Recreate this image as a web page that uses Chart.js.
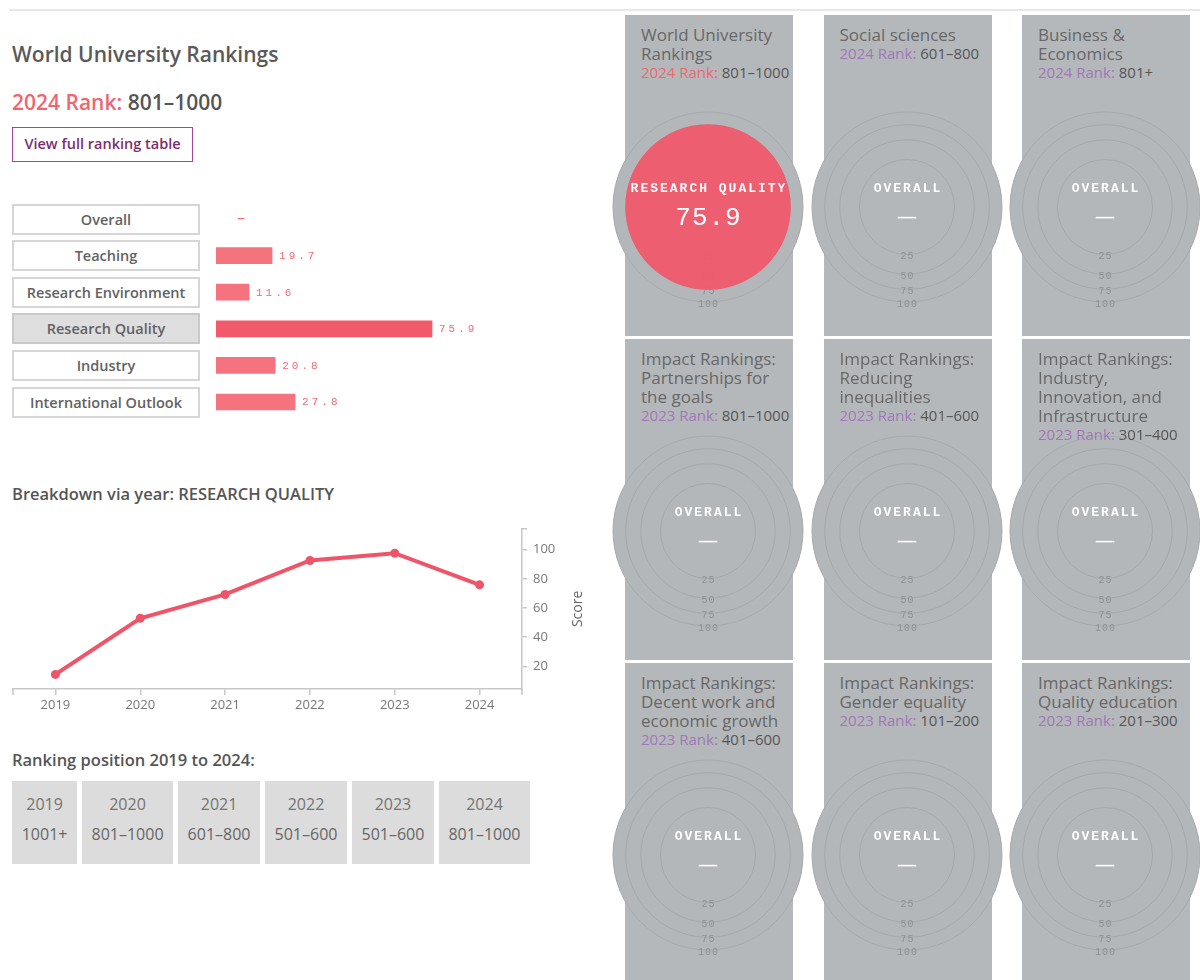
<!DOCTYPE html>
<html><head><meta charset="utf-8">
<script src="https://cdn.jsdelivr.net/npm/chart.js@4.4.1/dist/chart.umd.min.js"></script>
<style>
html,body{margin:0;padding:0;background:#fff;}
body{width:1200px;height:980px;position:relative;overflow:hidden;font-family:"Open Sans",sans-serif;}
.abs{position:absolute;}
#topline{left:9px;top:9px;width:1191px;height:2px;background:#e8e8e8;}
#title{left:12px;top:40px;font-size:21px;font-weight:600;color:#5a5a5a;line-height:28px;white-space:nowrap;}
#rank{left:12px;top:88px;font-size:21px;font-weight:600;color:#555;line-height:28px;white-space:nowrap;}
#rank .lbl{color:#ef6670;}
#btn{left:12px;top:127px;width:181px;height:35px;box-sizing:border-box;border:1.5px solid #a4479a;color:#7b2d6f;font-size:14.5px;font-weight:600;line-height:32px;text-align:center;white-space:nowrap;}
.box{position:absolute;left:12px;width:188px;height:31px;box-sizing:border-box;border:2px solid #d6d6d6;background:#fff;color:#626262;font-size:14.5px;font-weight:600;text-align:center;line-height:27px;white-space:nowrap;}
.box.sel{background:#dedede;border-color:#c9c9c9;}
.head{font-size:16.5px;font-weight:600;color:#555;line-height:22px;white-space:nowrap;}
#rankrow{left:12px;top:781px;display:flex;}
.cell{height:83px;box-sizing:border-box;background:#dcdcdc;padding:8px 9.7px 0 9.7px;margin-right:4.7px;text-align:center;font-size:16px;line-height:30px;color:#747474;white-space:nowrap;}
.cell .pos{color:#666;}
.card{position:absolute;width:168px;background:#b5b8bb;z-index:0;}
.ctext{position:absolute;z-index:3;color:#676767;}
.ctext .tt{font-size:17px;line-height:19px;white-space:pre-line;}
.ctext .rk{font-size:15px;line-height:19px;white-space:nowrap;color:#555;}
.ctext .rl{color:#a077b8;}
.ctext .rl.main{color:#ef6670;}
canvas{position:absolute;}
</style>
</head><body>
<div id="topline" class="abs"></div>
<div id="title" class="abs">World University Rankings</div>
<div id="rank" class="abs"><span class="lbl">2024 Rank:</span> 801–1000</div>
<div id="btn" class="abs">View full ranking table</div>
<canvas id="bars" width="310" height="228" style="left:210px;top:196px;width:310px;height:228px;"></canvas>
<div id="h2" class="abs head" style="left:12px;top:483px;">Breakdown via year: RESEARCH QUALITY</div>
<canvas id="line" width="600" height="200" style="left:0px;top:515px;width:600px;height:200px;"></canvas>
<div id="h3" class="abs head" style="left:12px;top:749px;">Ranking position 2019 to 2024:</div>
<div id="rankrow" class="abs"></div>
<script>
// ---------- data ----------
const pillarNames = ['Overall','Teaching','Research Environment','Research Quality','Industry','International Outlook'];
const pillarScores = [null, 19.7, 11.6, 75.9, 20.8, 27.8];
const selectedPillar = 'Research Quality';

const years = ['2019','2020','2021','2022','2023','2024'];
const researchQualityScores = [14.5, 53.0, 69.3, 92.6, 97.6, 75.9];
const scoreTicks = [20, 40, 60, 80, 100];

const rankYears = ['2019','2020','2021','2022','2023','2024'];
const rankPositions = ['1001+','801–1000','601–800','501–600','501–600','801–1000'];

const cardTitles = [
  'World University\nRankings',
  'Social sciences',
  'Business &\nEconomics',
  'Impact Rankings:\nPartnerships for\nthe goals',
  'Impact Rankings:\nReducing\ninequalities',
  'Impact Rankings:\nIndustry,\nInnovation, and\nInfrastructure',
  'Impact Rankings:\nDecent work and\neconomic growth',
  'Impact Rankings:\nGender equality',
  'Impact Rankings:\nQuality education'
];
const cardRankYears = ['2024','2024','2024','2023','2023','2023','2023','2023','2023'];
const cardRanks = ['801–1000','601–800','801+','801–1000','401–600','301–400','401–600','101–200','201–300'];
const circleLabels = ['RESEARCH QUALITY','OVERALL','OVERALL','OVERALL','OVERALL','OVERALL','OVERALL','OVERALL','OVERALL'];
const circleValues = [75.9, null, null, null, null, null, null, null, null];
const ringTicks = [25, 50, 75, 100];

// ---------- bar chart ----------
const selIdx = pillarNames.indexOf(selectedPillar);
const barValueLabels = {
  id:'barValueLabels',
  afterDatasetsDraw(chart){
    const ctx = chart.ctx, xs = chart.scales.x, ys = chart.scales.y;
    const meta = chart.getDatasetMeta(0);
    ctx.save();
    ctx.textBaseline = 'middle'; ctx.textAlign = 'left';
    ctx.fillStyle = '#ec6b77';
    pillarScores.forEach((v,i)=>{
      const y = ys.getPixelForValue(i);
      if (v == null) {
        ctx.font = '16px "Open Sans"';
        ctx.letterSpacing = '0px';
        ctx.fillText('–', xs.getPixelForValue(0) + 21, y - 1);
      } else {
        ctx.font = '11px "Liberation Mono"';
        ctx.letterSpacing = '3px';
        ctx.fillText(v.toFixed(1), meta.data[i].x + 7, y + 0.5);
      }
    });
    ctx.restore();
  }
};
const barChart = new Chart(document.getElementById('bars'), {
  type:'bar',
  data:{labels:pillarNames, datasets:[{data:pillarScores,
    backgroundColor:c => c.dataIndex === selIdx ? '#f25a6b' : '#f5737f',
    barThickness:16, borderWidth:0}]},
  options:{indexAxis:'y', responsive:false, animation:false,
    layout:{padding:{left:6, right:19.4, top:4.7, bottom:3.7}},
    scales:{x:{display:false, min:0, max:100}, y:{display:false}},
    plugins:{legend:{display:false}, tooltip:{enabled:false}}},
  plugins:[barValueLabels]
});
(function(){
  const ys = barChart.scales.y;
  const top0 = 196;
  pillarNames.forEach((n,i)=>{
    const d = document.createElement('div');
    d.className = 'box' + (i === selIdx ? ' sel' : '');
    d.textContent = n;
    d.style.top = (top0 + ys.getPixelForValue(i) - 15.5) + 'px';
    document.body.appendChild(d);
  });
})();

// ---------- line chart ----------
const lineExtras = {
  id:'lineExtras',
  afterDraw(chart){
    const ctx = chart.ctx, a = chart.chartArea, ys = chart.scales.y;
    ctx.save();
    ctx.strokeStyle = '#c8c8c8'; ctx.lineWidth = 1.5;
    ctx.beginPath();
    ctx.moveTo(a.left, a.bottom); ctx.lineTo(a.left, a.bottom + 6);
    ctx.moveTo(a.right, a.bottom); ctx.lineTo(a.right, a.bottom + 6);
    ctx.moveTo(a.right, a.top); ctx.lineTo(a.right + 5, a.top);
    ctx.stroke();
    ctx.translate(ys.right - 22, (a.top + a.bottom) / 2);
    ctx.rotate(-Math.PI / 2);
    ctx.fillStyle = '#666'; ctx.font = '14px "Open Sans"';
    ctx.textAlign = 'center'; ctx.textBaseline = 'middle';
    ctx.fillText('Score', 0, 0);
    ctx.restore();
  }
};
new Chart(document.getElementById('line'), {
  type:'line',
  data:{labels:years, datasets:[{data:researchQualityScores, borderColor:'#ef5568', backgroundColor:'#ef5568',
    borderWidth:4, pointRadius:4.5, pointBorderWidth:0, pointBackgroundColor:'#ef5568', tension:0}]},
  options:{responsive:false, animation:false,
    layout:{padding:{left:13, top:8, right:0, bottom:0}},
    scales:{
      x:{offset:true,
        grid:{drawOnChartArea:false, tickLength:6, color:'#c8c8c8', lineWidth:1.5},
        border:{color:'#c8c8c8', width:1.5},
        ticks:{color:'#777', font:{family:'Open Sans', size:13}, padding:2, maxRotation:0},
        afterFit:s => { s.height = 26; }},
      y:{position:'right', min:4.5, max:114.3,
        afterBuildTicks:s => { s.ticks = scoreTicks.map(v => ({value:v})); },
        grid:{drawOnChartArea:false, tickLength:5, color:'#c8c8c8', lineWidth:1.5},
        border:{color:'#c8c8c8', width:1.5},
        ticks:{color:'#777', font:{family:'Open Sans', size:13}, padding:6},
        afterFit:s => { s.width = 78; }}
    },
    plugins:{legend:{display:false}, tooltip:{enabled:false}}},
  plugins:[lineExtras]
});

// ---------- ranking row ----------
(function(){
  const row = document.getElementById('rankrow');
  rankYears.forEach((y,i)=>{
    const c = document.createElement('div');
    c.className = 'cell';
    c.innerHTML = '<div>' + y + '</div><div class="pos">' + rankPositions[i] + '</div>';
    row.appendChild(c);
  });
})();

// ---------- circles (sqrt radial scale) ----------
class SqrtRadialScale extends Chart.RadialLinearScale {
  getDistanceFromCenterForValue(value) {
    if (value === null || value === undefined || isNaN(value)) return NaN;
    const f = (value - this.min) / (this.max - this.min);
    return this.drawingArea * Math.sqrt(Math.max(0, f));
  }
}
SqrtRadialScale.id = 'radialSqrt';
Chart.register(SqrtRadialScale);

const ringLabels = {
  id:'ringLabels',
  beforeDatasetsDraw(chart){
    const ctx = chart.ctx, s = chart.scales.r;
    ctx.save();
    ctx.font = '10px "Liberation Mono"';
    ctx.letterSpacing = '1px';
    ctx.fillStyle = '#8d9093';
    ctx.textAlign = 'center'; ctx.textBaseline = 'middle';
    ringTicks.forEach(v => ctx.fillText(String(v), s.xCenter + 0.5, s.yCenter + s.getDistanceFromCenterForValue(v) + 2));
    ctx.restore();
  }
};
const centerText = {
  id:'centerText',
  afterDatasetsDraw(chart, args, opts){
    const ctx = chart.ctx, s = chart.scales.r;
    ctx.save();
    ctx.fillStyle = '#fff';
    ctx.textAlign = 'center'; ctx.textBaseline = 'middle';
    ctx.font = 'bold 13px "Liberation Mono"';
    ctx.letterSpacing = '2px';
    ctx.fillText(opts.label, s.xCenter + 1, s.yCenter - 18);
    if (opts.value == null) {
      ctx.letterSpacing = '0px';
      ctx.font = '20px "Open Sans"';
      ctx.fillText('—', s.xCenter, s.yCenter + 10);
    } else {
      ctx.font = '26px "Liberation Mono"';
      ctx.letterSpacing = '1px';
      ctx.fillText(opts.value.toFixed(1), s.xCenter + 0.5, s.yCenter + 11);
    }
    ctx.restore();
  }
};

cardTitles.forEach((t,i)=>{
  const col = i % 3, row = Math.floor(i / 3);
  const left = 625 + col * 198.5, top = 15 + row * 324;
  const card = document.createElement('div');
  card.className = 'card';
  card.style.left = left + 'px'; card.style.top = top + 'px';
  card.style.height = (row === 2 ? 340 : 321) + 'px';
  document.body.appendChild(card);

  const txt = document.createElement('div');
  txt.className = 'ctext';
  txt.style.left = (left + 16) + 'px'; txt.style.top = (top + 10) + 'px';
  const isMain = t.indexOf('World University') === 0;
  txt.innerHTML = '<div class="tt">' + t + '</div><div class="rk"><span class="rl' + (isMain ? ' main' : '') + '">' +
    cardRankYears[i] + ' Rank:</span> ' + cardRanks[i] + '</div>';
  document.body.appendChild(txt);

  const cx = left + 83, cy = top + 192;
  const cv = document.createElement('canvas');
  cv.width = 210; cv.height = 210;
  cv.style.left = (cx - 105) + 'px'; cv.style.top = (cy - 105) + 'px';
  cv.style.width = '210px'; cv.style.height = '210px';
  cv.style.zIndex = 1;
  document.body.appendChild(cv);
  const v = circleValues[i];
  new Chart(cv, {
    type:'polarArea',
    data:{labels:[circleLabels[i]], datasets:[{data: v == null ? [] : [v],
      backgroundColor:'rgba(241,88,106,0.93)', borderWidth:0}]},
    options:{responsive:false, animation:false, layout:{padding:10},
      scales:{r:{type:'radialSqrt', min:0, max:100, backgroundColor:'#b4b7ba',
        ticks:{display:false, stepSize:25},
        grid:{color:'#a6a9ac', lineWidth:1, circular:true},
        angleLines:{display:false}, pointLabels:{display:false}}},
      plugins:{legend:{display:false}, tooltip:{enabled:false},
        centerText:{label:circleLabels[i], value:v}}},
    plugins:[ringLabels, centerText]
  });
});
</script>
</body></html>
